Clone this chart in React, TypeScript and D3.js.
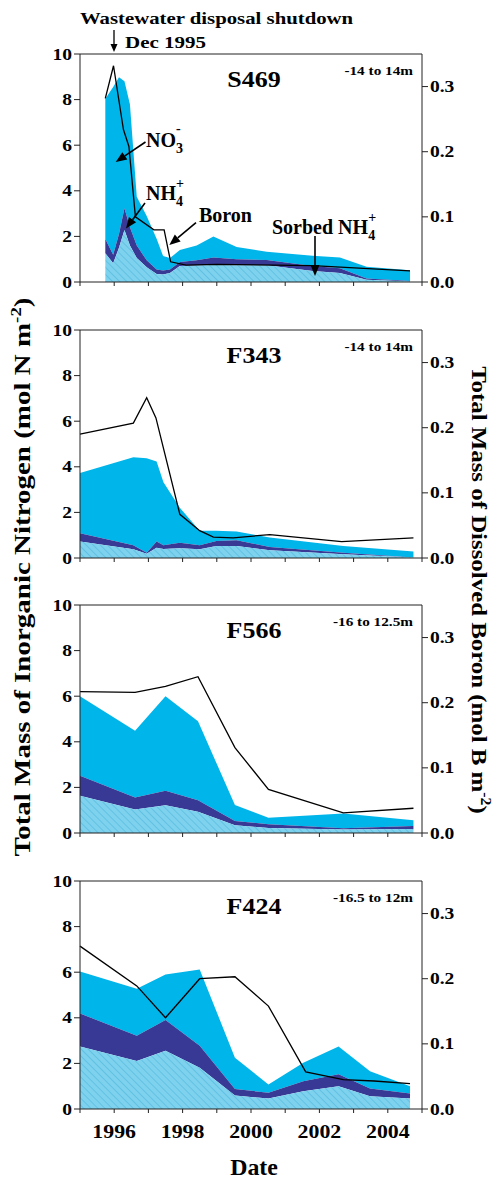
import React from "react";
import * as d3 from "d3";

// ---------- DATA ----------
const years = [1995, 1996, 1997, 1998, 1999, 2000, 2001, 2002, 2003, 2004, 2005];
const yearLabels = [1996, 1998, 2000, 2002, 2004];
const nTicks = [0, 2, 4, 6, 8, 10];
const bTicks = [0, 0.1, 0.2, 0.3];

const panelNames = ["S469", "F343", "F566", "F424"];
const panelDepths = ["-14 to 14m", "-14 to 14m", "-16 to 12.5m", "-16.5 to 12m"];

// S469
const s469Dates = [1995.74, 1995.97, 1996.14, 1996.3, 1996.46, 1996.66, 1996.95, 1997.24, 1997.43, 1997.63, 1997.92, 1998.41, 1998.9, 1999.58, 2000.46, 2001.8, 2002.6, 2003.38, 2004.65];
const s469Sorbed = [1.26, 0.82, 1.5, 2.28, 1.6, 1.05, 0.65, 0.35, 0.33, 0.4, 0.7, 0.72, 0.75, 0.74, 0.73, 0.48, 0.4, 0.1, 0.02];
const s469Nh4 = [0.63, 0.38, 0.6, 0.96, 0.8, 0.55, 0.3, 0.2, 0.17, 0.15, 0.18, 0.23, 0.33, 0.26, 0.23, 0.22, 0.2, 0.05, 0.02];
const s469No3 = [6.15, 7.35, 6.88, 5.56, 5.4, 2.14, 1.95, 1.35, 0.64, 0.5, 0.52, 0.65, 0.92, 0.53, 0.37, 0.45, 0.47, 0.52, 0.48];
const s469BoronDates = [1995.74, 1995.98, 1996.27, 1996.43, 1996.62, 1997.16, 1997.46, 1997.65, 1998.1, 1999.0, 2001.8, 2004.65];
const s469Boron = [0.282, 0.332, 0.234, 0.208, 0.1, 0.08, 0.08, 0.031, 0.026, 0.027, 0.025, 0.017];

// F343
const f343Dates = [1995.0, 1996.56, 1996.95, 1997.24, 1997.44, 1997.92, 1998.5, 1998.99, 1999.58, 2000.55, 2002.7, 2004.75];
const f343Sorbed = [0.72, 0.38, 0.19, 0.45, 0.4, 0.43, 0.38, 0.53, 0.53, 0.34, 0.16, 0.02];
const f343Nh4 = [0.37, 0.18, 0.04, 0.27, 0.16, 0.24, 0.18, 0.22, 0.25, 0.14, 0.07, 0.0];
const f343No3 = [2.64, 3.86, 4.15, 3.51, 2.76, 1.53, 0.63, 0.44, 0.38, 0.42, 0.3, 0.26];
const f343BoronDates = [1995.0, 1996.56, 1996.95, 1997.22, 1997.92, 1998.5, 1998.9, 1999.48, 2000.55, 2002.65, 2004.75];
const f343Boron = [0.19, 0.207, 0.246, 0.215, 0.067, 0.042, 0.032, 0.031, 0.036, 0.025, 0.031];

// F566
const f566Dates = [1995.0, 1996.61, 1997.5, 1998.45, 1999.53, 2000.51, 2002.7, 2004.75];
const f566Sorbed = [1.63, 1.03, 1.22, 0.93, 0.34, 0.22, 0.15, 0.18];
const f566Nh4 = [0.88, 0.53, 0.63, 0.51, 0.19, 0.16, 0.06, 0.13];
const f566No3 = [3.49, 2.93, 4.15, 3.46, 0.7, 0.29, 0.64, 0.25];
const f566BoronDates = [1995.0, 1996.61, 1997.5, 1998.45, 1999.53, 2000.51, 2002.7, 2004.75];
const f566Boron = [0.217, 0.216, 0.225, 0.24, 0.131, 0.067, 0.031, 0.038];

// F424
const f424Dates = [1995.0, 1996.66, 1997.5, 1998.5, 1999.53, 2000.51, 2001.53, 2002.56, 2003.48, 2004.65];
const f424Sorbed = [2.74, 2.1, 2.55, 1.81, 0.59, 0.46, 0.78, 1.0, 0.56, 0.46];
const f424Nh4 = [1.45, 1.11, 1.35, 0.96, 0.29, 0.25, 0.44, 0.52, 0.34, 0.22];
const f424No3 = [1.84, 2.06, 2.0, 3.35, 1.37, 0.37, 0.81, 1.22, 0.76, 0.32];
const f424BoronDates = [1995.0, 1996.66, 1997.5, 1998.5, 1999.53, 2000.51, 2001.6, 2002.7, 2003.6, 2004.65];
const f424Boron = [0.25, 0.189, 0.14, 0.2, 0.203, 0.158, 0.057, 0.045, 0.043, 0.039];

const panelData = [
  { dates: s469Dates, sorbed: s469Sorbed, nh4: s469Nh4, no3: s469No3, bDates: s469BoronDates, boron: s469Boron },
  { dates: f343Dates, sorbed: f343Sorbed, nh4: f343Nh4, no3: f343No3, bDates: f343BoronDates, boron: f343Boron },
  { dates: f566Dates, sorbed: f566Sorbed, nh4: f566Nh4, no3: f566No3, bDates: f566BoronDates, boron: f566Boron },
  { dates: f424Dates, sorbed: f424Sorbed, nh4: f424Nh4, no3: f424No3, bDates: f424BoronDates, boron: f424Boron },
];

// ---------- LAYOUT ----------
const W = 504;
const H = 1180;
const X0 = 80;
const X1 = 422;
const panelTops = [54, 330, 605, 881];
const PH = 228;
const FONT = "'Liberation Serif', 'Times New Roman', serif";
const C_NO3 = "#00b5ea";
const C_NH4 = "#373994";
const C_HATCH_BG = "#7ed2ee";
const C_HATCH_LN = "#4fb6dc";
const C_AX = "#222";

const x = d3.scaleLinear().domain([1995, 2005]).range([X0, X1]);

function T({ x, y, size, sx = 1, anchor = "start", rot = 0, children }: any) {
  return (
    <text
      transform={`translate(${x},${y}) rotate(${rot}) scale(${sx},1)`}
      fontFamily={FONT}
      fontWeight="bold"
      fontSize={size}
      textAnchor={anchor}
      fill="#000"
    >
      {children}
    </text>
  );
}

function Arrow({ x1, y1, x2, y2, w = 1.6, head = 11, hw = 9 }: any) {
  const ang = Math.atan2(y2 - y1, x2 - x1);
  const bx = x2 - head * Math.cos(ang);
  const by = y2 - head * Math.sin(ang);
  const px = (hw / 2) * Math.cos(ang + Math.PI / 2);
  const py = (hw / 2) * Math.sin(ang + Math.PI / 2);
  return (
    <g>
      <line x1={x1} y1={y1} x2={bx} y2={by} stroke="#000" strokeWidth={w} />
      <path d={`M${x2},${y2}L${bx + px},${by + py}L${bx - px},${by - py}Z`} fill="#000" />
    </g>
  );
}

function Panel({ idx }: { idx: number }) {
  const top = panelTops[idx];
  const bottom = top + PH;
  const d = panelData[idx];
  const yN = d3.scaleLinear().domain([0, 10]).range([bottom, top]);
  const yB = d3.scaleLinear().domain([0, 0.35]).range([bottom, top]);

  const rows = d.dates.map((dt, i) => ({ date: dt, sorbed: d.sorbed[i], nh4: d.nh4[i], no3: d.no3[i] }));
  const stack = d3.stack<any>().keys(["sorbed", "nh4", "no3"]);
  const series = stack(rows);
  const area = d3
    .area<any>()
    .x((p: any) => x(p.data.date))
    .y0((p: any) => yN(p[0]))
    .y1((p: any) => yN(p[1]));
  const fills = [`url(#hatch)`, C_NH4, C_NO3];

  const line = d3
    .line<number>()
    .x((_, i) => x(d.bDates[i]))
    .y((v) => yB(v));

  return (
    <g>
      {series
        .slice()
        .reverse()
        .map((s: any, k: number) => (
          <path key={k} d={area(s) || ""} fill={fills[2 - k]} />
        ))}
      <path d={line(d.boron) || ""} fill="none" stroke="#000" strokeWidth={1.3} />
      {/* frame */}
      <line x1={X0} x2={X1} y1={top} y2={top} stroke={C_AX} strokeWidth={1} />
      <line x1={X0} x2={X0} y1={top} y2={bottom} stroke={C_AX} strokeWidth={1} />
      <line x1={X1} x2={X1} y1={top} y2={bottom} stroke={C_AX} strokeWidth={1} />
      <line x1={X0} x2={X1} y1={bottom} y2={bottom} stroke={C_AX} strokeWidth={1} />
      {years.map((yr) => (
        <line key={yr} x1={x(yr)} x2={x(yr)} y1={bottom} y2={bottom + 4} stroke={C_AX} />
      ))}
      {nTicks.map((t) => (
        <g key={t}>
          <line x1={X0 - 6} x2={X0} y1={yN(t)} y2={yN(t)} stroke={C_AX} />
          <T x={X0 - 8} y={yN(t) + 5.5} size={16} sx={1.22} anchor="end">
            {t}
          </T>
        </g>
      ))}
      {bTicks.map((t) => (
        <g key={t}>
          <line x1={X1} x2={X1 + 6} y1={yB(t)} y2={yB(t)} stroke={C_AX} />
          <T x={X1 + 8} y={yB(t) + 5.5} size={16} sx={1.22}>
            {d3.format(".1f")(t)}
          </T>
        </g>
      ))}
      <T x={254} y={top + 33} size={23} sx={1.13} anchor="middle">
        {panelNames[idx]}
      </T>
      <T x={413} y={top + 20.5} size={13.5} sx={1.13} anchor="end">
        {panelDepths[idx]}
      </T>
      {idx === 3 &&
        yearLabels.map((yr) => (
          <T key={yr} x={x(yr)} y={bottom + 28.5} size={19} sx={1.15} anchor="middle">
            {yr}
          </T>
        ))}
    </g>
  );
}

export default function App() {
  return (
    <svg
      width={W}
      height={H}
      viewBox={`0 0 ${W} ${H}`}
      style={{ position: "absolute", left: 0, top: 0, display: "block", background: "#fff" }}
    >
      <defs>
        <pattern id="hatch" patternUnits="userSpaceOnUse" width={5} height={5} patternTransform="rotate(-45)">
          <rect width={5} height={5} fill={C_HATCH_BG} />
          <line x1={0} y1={0} x2={0} y2={5} stroke={C_HATCH_LN} strokeWidth={1.2} />
        </pattern>
      </defs>
      <rect width={W} height={H} fill="#fff" />
      {panelNames.map((_, i) => (
        <Panel key={i} idx={i} />
      ))}

      {/* top annotation */}
      <T x={80} y={24} size={16.5} sx={1.26}>
        Wastewater disposal shutdown
      </T>
      <Arrow x1={114} y1={30} x2={114} y2={52} w={1.3} head={8} hw={7} />
      <T x={125} y={48} size={17.5} sx={1.2}>
        Dec 1995
      </T>

      {/* panel 1 labels */}
      <T x={146} y={147} size={20}>
        NO<tspan fontSize={14} dy={6}>3</tspan>
        <tspan fontSize={14} dx={-7} dy={-20}>-</tspan>
      </T>
      <Arrow x1={145.5} y1={142} x2={115.7} y2={162} />
      <T x={146} y={199.5} size={20}>
        NH<tspan fontSize={14} dy={6}>4</tspan>
        <tspan fontSize={14} dx={-7} dy={-18}>+</tspan>
      </T>
      <Arrow x1={145} y1={203} x2={126} y2={228.5} />
      <T x={199} y={222} size={20}>
        Boron
      </T>
      <Arrow x1={196} y1={222.7} x2={169.3} y2={245} />
      <T x={272} y={234} size={20}>
        Sorbed NH<tspan fontSize={14} dy={6}>4</tspan>
        <tspan fontSize={14} dx={-7} dy={-18}>+</tspan>
      </T>
      <Arrow x1={315} y1={236} x2={315} y2={276} />

      {/* axis titles */}
      <T x={30} y={577} size={23} sx={1.26} rot={-90} anchor="middle">
        Total Mass of Inorganic Nitrogen (mol N m<tspan fontSize={15} dy={-9}>-2</tspan>
        <tspan dy={9}>)</tspan>
      </T>
      <T x={472} y={590} size={22} sx={1.13} rot={90} anchor="middle">
        Total Mass of Dissolved Boron (mol B m<tspan fontSize={14} dy={-9}>-2</tspan>
        <tspan dy={9}>)</tspan>
      </T>
      <T x={254} y={1175} size={22.5} sx={1.06} anchor="middle">
        Date
      </T>
    </svg>
  );
}
